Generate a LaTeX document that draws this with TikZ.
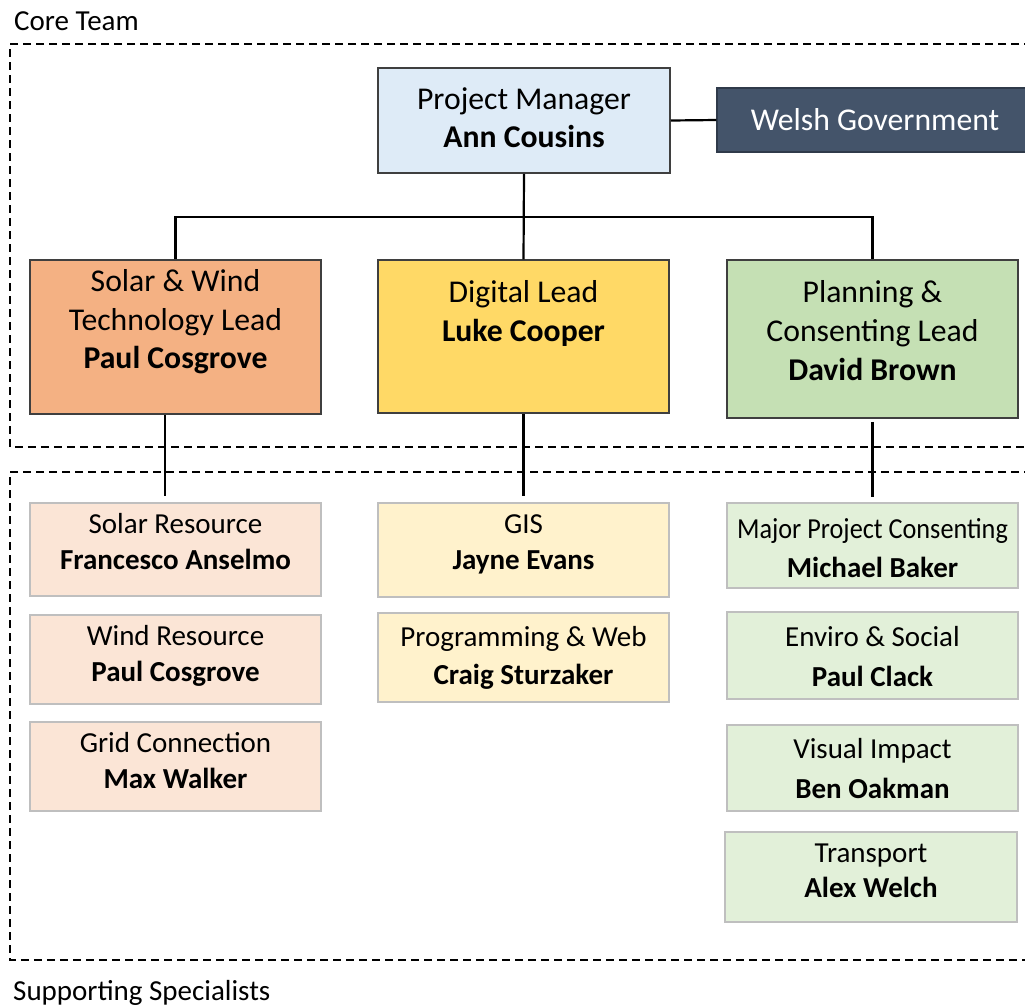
\documentclass[tikz,border=0pt]{standalone}
\usepackage{fontspec}
\usepackage{graphicx}
\setmainfont{Carlito}
\definecolor{pmfill}{HTML}{DEEBF7}
\definecolor{govfill}{HTML}{44546A}
\definecolor{govline}{HTML}{2F3A4A}
\definecolor{boxline}{HTML}{3F3F3F}
\definecolor{solarlead}{HTML}{F4B183}
\definecolor{digitallead}{HTML}{FFD966}
\definecolor{planlead}{HTML}{C5E0B4}
\definecolor{solarspec}{HTML}{FBE5D6}
\definecolor{digitalspec}{HTML}{FFF2CC}
\definecolor{planspec}{HTML}{E2F0D9}
\definecolor{specline}{HTML}{BFBFBF}
\newcommand{\bigtxt}{\fontsize{31.7}{38}\selectfont}
\newcommand{\smalltxt}{\fontsize{29}{36}\selectfont}
\begin{document}
\begin{tikzpicture}[x=1pt,y=-1pt,
  box/.style={draw=boxline, line width=1.5pt, inner sep=0pt},
  spec/.style={draw=specline, line width=1.8pt, inner sep=0pt},
  big/.style={anchor=base, inner sep=0pt, font=\bigtxt},
  small/.style={anchor=base, inner sep=0pt, font=\smalltxt},
  group/.style={draw=black, line width=1.7pt, dash pattern=on 8pt off 5pt},
  link/.style={draw=black, line width=2.2pt}]
\useasboundingbox (0,0) rectangle (1025,1005);

% group frames
\draw[group] (1045,44) -- (10,44) -- (10,447) -- (1045,447);
\draw[group] (1045,472) -- (10,472) -- (10,960) -- (1045,960);
\node[small, anchor=base west] (coreteam) at (14,30) {Core Team};
\node[small, anchor=base west] (supporting) at (13,1000) {Supporting Specialists};

% top level
\node[box, fill=pmfill, minimum width=292pt, minimum height=105pt] (pm) at (524,120.5) {};
\node[big] (pmrole) at (524,109) {Project Manager};
\node[big] (pmname) at (524,147) {\bfseries Ann Cousins};
\node[draw=govline, line width=1.5pt, fill=govfill, inner sep=0pt, minimum width=310pt, minimum height=64pt] (gov) at (872,120) {};
\node[big, text=white] (govtxt) at (875,130) {Welsh Government};

% leads
\node[box, fill=solarlead, minimum width=291pt, minimum height=154pt] (sl) at (175.5,337) {};
\node[big] (sl1) at (175.5,291) {Solar \& Wind};
\node[big] (sl2) at (175.5,330) {Technology Lead};
\node[big] (sl3) at (175.5,368) {\bfseries Paul Cosgrove};

\node[box, fill=digitallead, minimum width=291pt, minimum height=153pt] (dl) at (523.5,336.5) {};
\node[big] (dl1) at (523.5,302) {Digital Lead};
\node[big] (dl2) at (523.5,341) {\bfseries Luke Cooper};

\node[box, fill=planlead, minimum width=291pt, minimum height=158pt] (pl) at (872.5,339) {};
\node[big] (pl1) at (872.5,302) {Planning \&};
\node[big] (pl2) at (872.5,341.5) {Consenting Lead};
\node[big] (pl3) at (872.5,380) {\bfseries David Brown};

% specialists: solar & wind
\node[spec, fill=solarspec, minimum width=291pt, minimum height=93pt] (s1) at (175.5,549.5) {};
\node[small] (s1a) at (175.5,533) {Solar Resource};
\node[small] (s1b) at (175.5,569) {\bfseries Francesco Anselmo};
\node[spec, fill=solarspec, minimum width=291pt, minimum height=89pt] (s2) at (175.5,659.5) {};
\node[small] (s2a) at (175.5,645) {Wind Resource};
\node[small] (s2b) at (175.5,681) {\bfseries Paul Cosgrove};
\node[spec, fill=solarspec, minimum width=291pt, minimum height=89pt] (s3) at (175.5,766.5) {};
\node[small] (s3a) at (175.5,752) {Grid Connection};
\node[small] (s3b) at (175.5,788) {\bfseries Max Walker};

% specialists: digital
\node[spec, fill=digitalspec, minimum width=291pt, minimum height=94pt] (d1) at (523.5,550) {};
\node[small] (d1a) at (523.5,533) {GIS};
\node[small] (d1b) at (523.5,569) {\bfseries Jayne Evans};
\node[spec, fill=digitalspec, minimum width=291pt, minimum height=89pt] (d2) at (523.5,657.5) {};
\node[small] (d2a) at (523.5,646) {Programming \& Web};
\node[small] (d2b) at (523.5,684) {\bfseries Craig Sturzaker};

% specialists: planning & consenting
\node[spec, fill=planspec, minimum width=291pt, minimum height=85pt] (p1) at (872.5,545.5) {};
\node[small] (p1a) at (872.5,538) {\scalebox{0.905}[1]{Major Project Consenting}};
\node[small] (p1b) at (872.5,577) {\bfseries Michael Baker};
\node[spec, fill=planspec, minimum width=291pt, minimum height=87pt] (p2) at (872.5,655.5) {};
\node[small] (p2a) at (872.5,646) {Enviro \& Social};
\node[small] (p2b) at (872.5,686) {\bfseries Paul Clack};
\node[spec, fill=planspec, minimum width=291pt, minimum height=86pt] (p3) at (872.5,768) {};
\node[small] (p3a) at (872.5,758) {Visual Impact};
\node[small] (p3b) at (872.5,798) {\bfseries Ben Oakman};
\node[spec, fill=planspec, minimum width=292pt, minimum height=90pt] (p4) at (871,877) {};
\node[small] (p4a) at (871,862) {Transport};
\node[small] (p4b) at (871,897) {\bfseries Alex Welch};

% connectors
\coordinate (bar) at (524,217);
\coordinate (s0) at (165,496);
\coordinate (d0) at (523.5,496);
\coordinate (p0) at (872.5,497);
\draw[link] (pm.east) -- (gov.west);
\draw[link] (pm.south) -- (dl.north);
\draw[link] (sl.north) |- (bar) -| (pl.north);
\draw[link] (sl.south -| s0) -- (s0);
\draw[link] (dl.south) -- (d0);
\draw[link] ([yshift=-3pt]pl.south) -- (p0);
\end{tikzpicture}
\end{document}
